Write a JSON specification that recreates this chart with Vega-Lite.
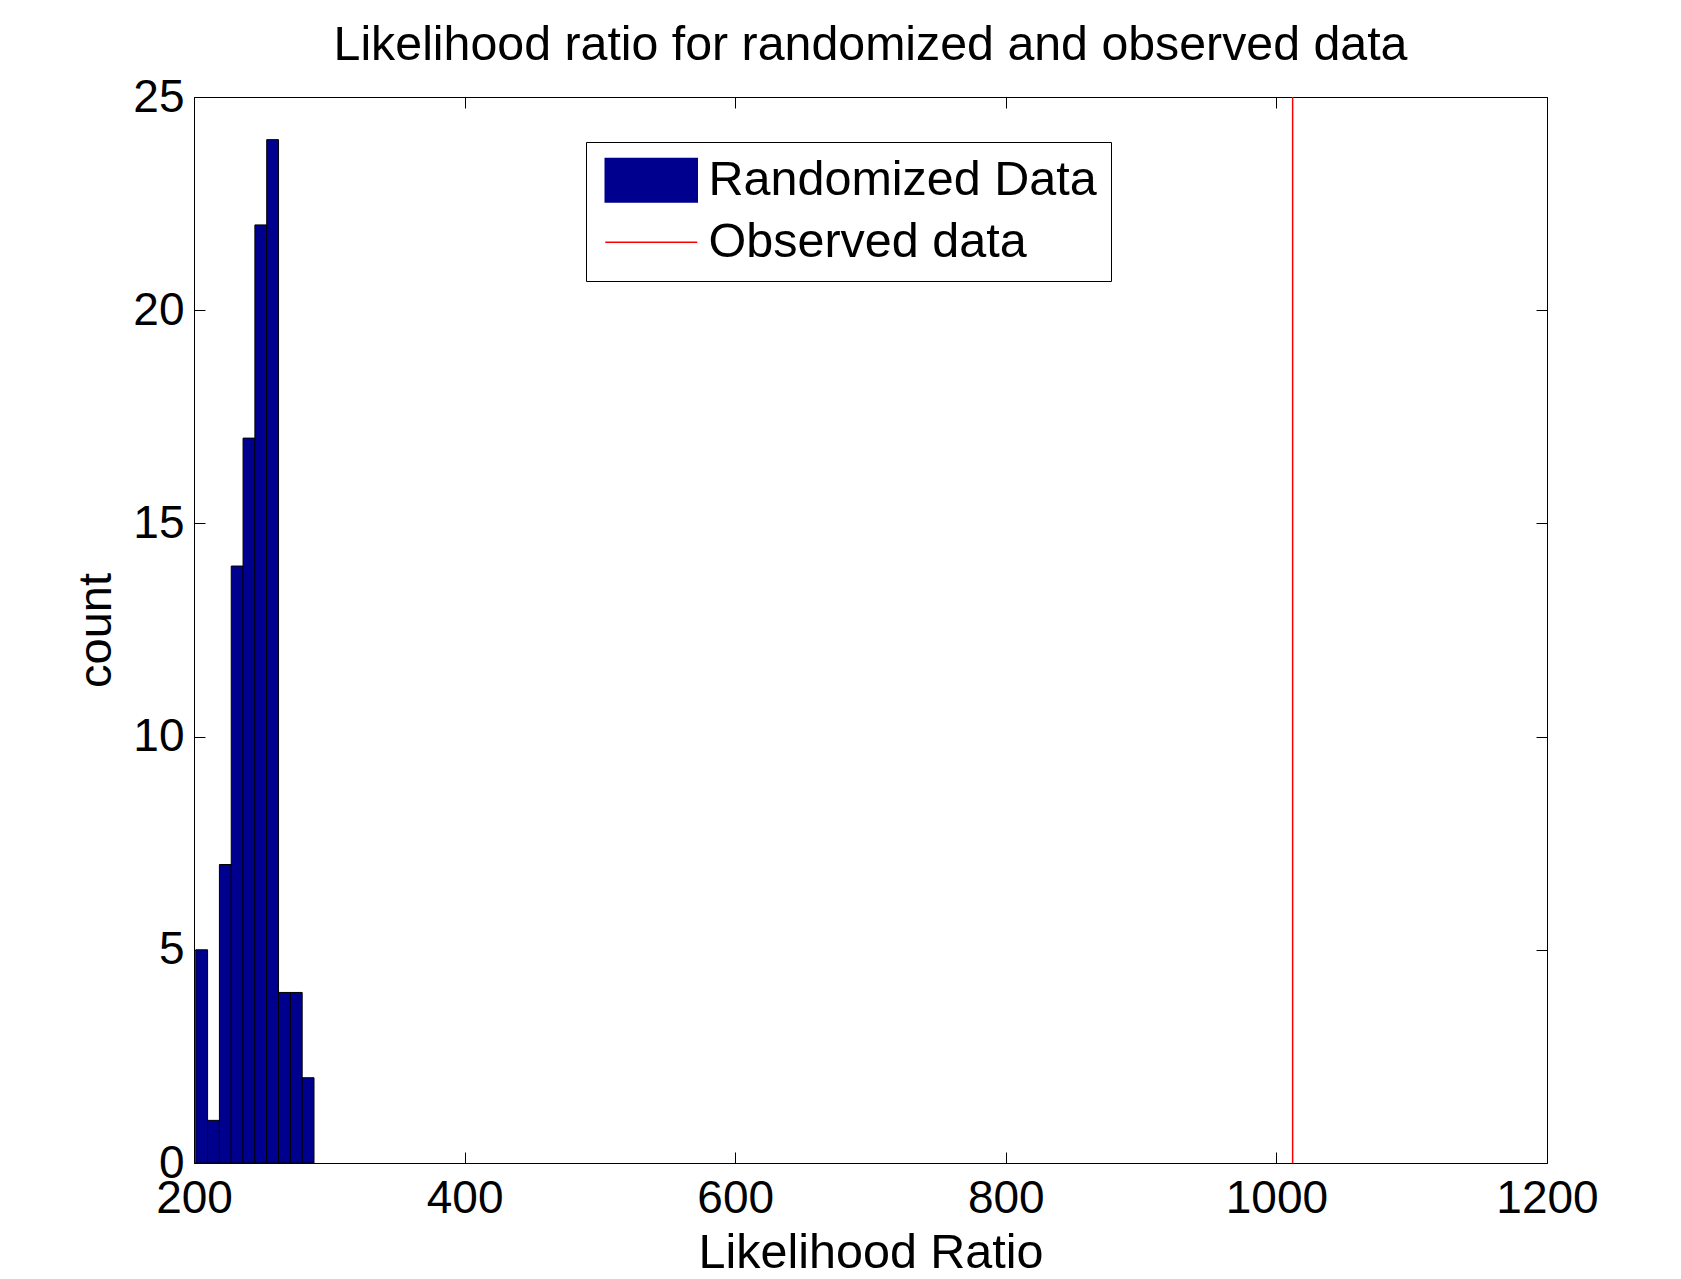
{
  "$schema": "https://vega.github.io/schema/vega-lite/v6.json",
  "width": 1353,
  "height": 1066,
  "autosize": {"type": "none"},
  "padding": {"left": 194, "top": 97, "right": 134, "bottom": 116},
  "background": "white",
  "config": {
    "view": {"stroke": null},
    "font": "Liberation Sans",
    "axis": {"grid": false, "domainColor": "#000000", "domainWidth": 1, "tickColor": "#000000", "tickWidth": 1, "labelColor": "#000000", "titleColor": "#000000", "labelFont": "Liberation Sans", "titleFont": "Liberation Sans", "titleFontWeight": "normal", "labelFlush": false, "labelOverlap": false, "labelBound": false}
  },
  "title": {"text": "Likelihood ratio for randomized and observed data", "fontSize": 48.3, "fontWeight": "normal", "font": "Liberation Sans", "color": "#000000", "baseline": "alphabetic", "offset": -34},
  "resolve": {"axis": {"x": "independent", "y": "independent"}},
  "layer": [
    {
      "data": {"values": [
        {"lo": 201.3, "hi": 210.04, "count": 5, "series": "Randomized Data"},
        {"lo": 210.04, "hi": 218.78, "count": 1, "series": "Randomized Data"},
        {"lo": 218.78, "hi": 227.52, "count": 7, "series": "Randomized Data"},
        {"lo": 227.52, "hi": 236.26, "count": 14, "series": "Randomized Data"},
        {"lo": 236.26, "hi": 245.0, "count": 17, "series": "Randomized Data"},
        {"lo": 245.0, "hi": 253.74, "count": 22, "series": "Randomized Data"},
        {"lo": 253.74, "hi": 262.48, "count": 24, "series": "Randomized Data"},
        {"lo": 262.48, "hi": 271.22, "count": 4, "series": "Randomized Data"},
        {"lo": 271.22, "hi": 279.96, "count": 4, "series": "Randomized Data"},
        {"lo": 279.96, "hi": 288.7, "count": 2, "series": "Randomized Data"}
      ]},
      "mark": {"type": "bar", "stroke": "#000000", "strokeWidth": 1, "opacity": 1},
      "encoding": {
        "x": {"field": "lo", "type": "quantitative", "scale": {"domain": [200, 1200], "nice": false, "zero": false},
          "axis": {"orient": "bottom", "values": [200, 400, 600, 800, 1000, 1200], "format": "d", "tickSize": -11, "labelPadding": 24, "labelFontSize": 46, "title": "Likelihood Ratio", "titleFontSize": 48.5, "titlePadding": 8}},
        "x2": {"field": "hi"},
        "y": {"field": "count", "type": "quantitative", "scale": {"domain": [0, 25], "nice": false},
          "axis": {"orient": "left", "values": [0, 5, 10, 15, 20, 25], "tickSize": -11, "labelPadding": 21, "labelFontSize": 46, "title": "count", "titleFontSize": 47, "titlePadding": 12}},
        "y2": {"datum": 0},
        "color": {"field": "series", "type": "nominal",
          "scale": {"domain": ["Randomized Data", "Observed data"], "range": ["#00008F", "#FF0000"]},
          "legend": {
            "title": null, "orient": "none", "legendX": 392, "legendY": 45,
            "strokeColor": "#000000", "fillColor": "#FFFFFF", "padding": 14,
            "labelFontSize": 48.5, "labelFont": "Liberation Sans", "labelColor": "#000000", "labelLimit": 0,
            "symbolOffset": 27, "labelOffset": 33, "rowPadding": 12,
            "encode": {"symbols": {"update": {
              "shape": {"signal": "datum.value === 'Observed data' ? 'M-2,0H2' : 'M-2,-0.95H2V0.95H-2Z'"},
              "size": {"value": 2116},
              "fill": {"signal": "datum.value === 'Observed data' ? 'transparent' : '#00008F'"},
              "stroke": {"signal": "datum.value === 'Observed data' ? '#FF0000' : '#000000'"},
              "strokeWidth": {"value": 1.5},
              "opacity": {"value": 1}
            }}}
          }}
      }
    },
    {
      "data": {"values": [{"lr": 1012, "series": "Observed data"}]},
      "mark": {"type": "rule", "strokeWidth": 1.5},
      "encoding": {
        "x": {"field": "lr", "type": "quantitative",
          "axis": {"orient": "top", "values": [200, 400, 600, 800, 1000, 1200], "tickSize": -11, "labels": false, "title": null}},
        "y": {"datum": 0, "type": "quantitative",
          "axis": {"orient": "right", "values": [0, 5, 10, 15, 20, 25], "tickSize": -11, "labels": false, "title": null}},
        "y2": {"datum": 25},
        "color": {"field": "series", "type": "nominal",
          "legend": {
            "title": null, "orient": "none", "legendX": 392, "legendY": 45,
            "strokeColor": "#000000", "fillColor": "#FFFFFF", "padding": 14,
            "labelFontSize": 48.5, "labelFont": "Liberation Sans", "labelColor": "#000000", "labelLimit": 0,
            "symbolOffset": 27, "labelOffset": 33, "rowPadding": 12,
            "encode": {"symbols": {"update": {
              "shape": {"signal": "datum.value === 'Observed data' ? 'M-2,0H2' : 'M-2,-0.95H2V0.95H-2Z'"},
              "size": {"value": 2116},
              "fill": {"signal": "datum.value === 'Observed data' ? 'transparent' : '#00008F'"},
              "stroke": {"signal": "datum.value === 'Observed data' ? '#FF0000' : '#000000'"},
              "strokeWidth": {"value": 1.5},
              "opacity": {"value": 1}
            }}}
          }}
      }
    }
  ]
}
